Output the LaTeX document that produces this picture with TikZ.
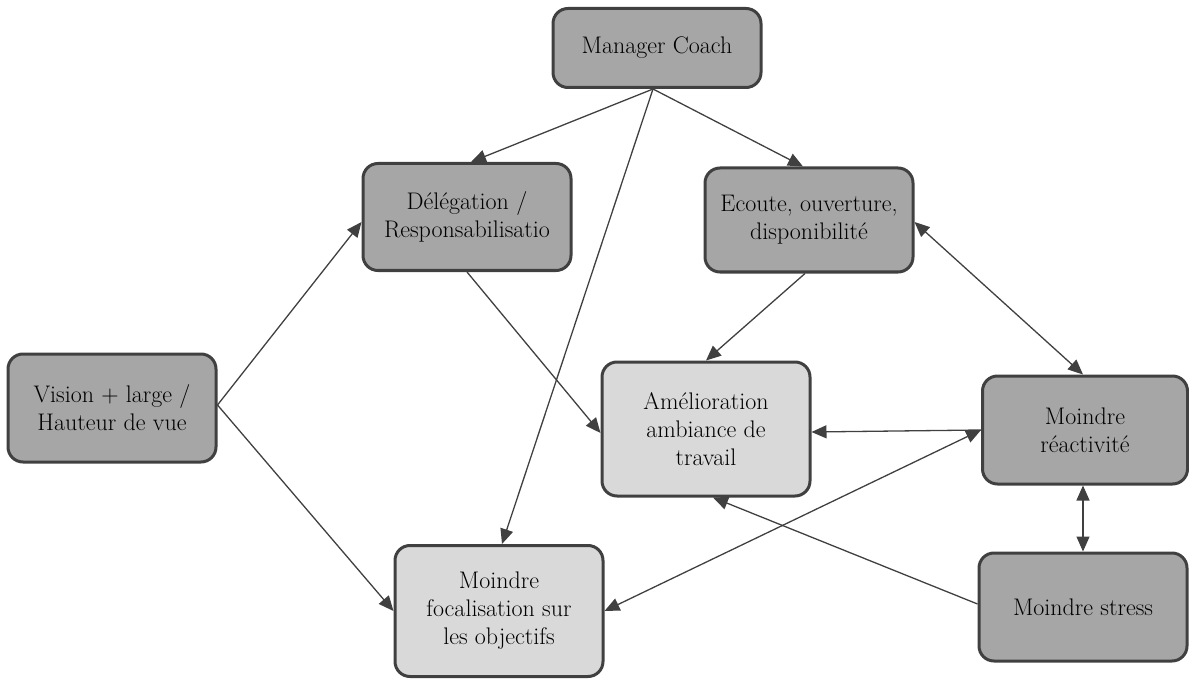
\documentclass[tikz,border=0pt]{standalone}
\usepackage{fontspec}
\usetikzlibrary{arrows.meta, positioning, calc}
\definecolor{edgegray}{RGB}{64,64,64}
\definecolor{darkbox}{RGB}{166,166,166}
\definecolor{lightbox}{RGB}{217,217,217}
\tikzstyle{box} = [rectangle, rounded corners=15pt,
draw=edgegray, line width=3pt, fill=darkbox,
minimum width=208pt, align=center,
font=\fontsize{24}{28}\selectfont]
\tikzstyle{lbox} = [box, fill=lightbox]
\tikzstyle{arrow} = [-{Triangle[length=15pt,width=13pt]}, draw=edgegray, line width=1.3pt]
\tikzstyle{darrow} = [{Triangle[length=15pt,width=13pt]}-{Triangle[length=15pt,width=13pt]}, draw=edgegray, line width=1.3pt]

\begin{document}
\begin{tikzpicture}[x=1pt, y=-1pt]
  \useasboundingbox (0,0) rectangle (1189,679);

  \node[box, minimum height=79pt]  (coach)  at (657,48)  {Manager Coach};
  \node[box, minimum height=107pt] (deleg)  at (467,217) {Délégation /\\Responsabilisatio};
  \node[box, minimum height=104pt] (ecoute) at (809,220) {Ecoute, ouverture,\\disponibilité};
  \node[box, minimum height=108pt] (vision) at (112,408) {Vision + large /\\Hauteur de vue};
  \node[lbox, minimum height=134pt] (amel)  at (706,429) {Amélioration\\ambiance de\\travail};
  \node[box, minimum height=108pt, minimum width=205pt] (reac) at (1085,430) {Moindre\\réactivité};
  \node[lbox, minimum height=131pt] (focal) at (499,611) {Moindre\\focalisation sur\\les objectifs};
  \node[box, minimum height=108pt] (stress) at (1083,607) {Moindre stress};

  \draw[arrow] ($(coach.south)+(-4,0)$) -- ($(deleg.north)+(4,0)$);
  \draw[arrow] ($(coach.south)+(-4,0)$) -- ($(ecoute.north)+(-6,0)$);
  \draw[arrow] ($(coach.south)+(-4,0)$) -- ($(focal.north)+(3,0)$);

  \draw[arrow] ($(vision.east)+(0,-3)$) -- ($(deleg.west)+(0,5)$);
  \draw[arrow] ($(vision.east)+(0,-3)$) -- (focal.west);

  \draw[arrow] (deleg.south) -- ($(amel.west)+(0,4)$);
  \draw[arrow] ($(ecoute.south)+(-4,0)$) -- (amel.north);

  \draw[darrow] ($(ecoute.east)+(0,2)$) -- ($(reac.north)+(-2,0)$);
  \draw[arrow] (reac.west) -- ($(amel.east)+(0,3)$);
  \draw[darrow] (focal.east) -- (reac.west);
  \draw[darrow] ($(reac.south)+(-2,0)$) -- (stress.north);
  \draw[arrow] ($(stress.west)+(0,-3)$) -- ($(amel.south)+(7,0)$);
\end{tikzpicture}
\end{document}
